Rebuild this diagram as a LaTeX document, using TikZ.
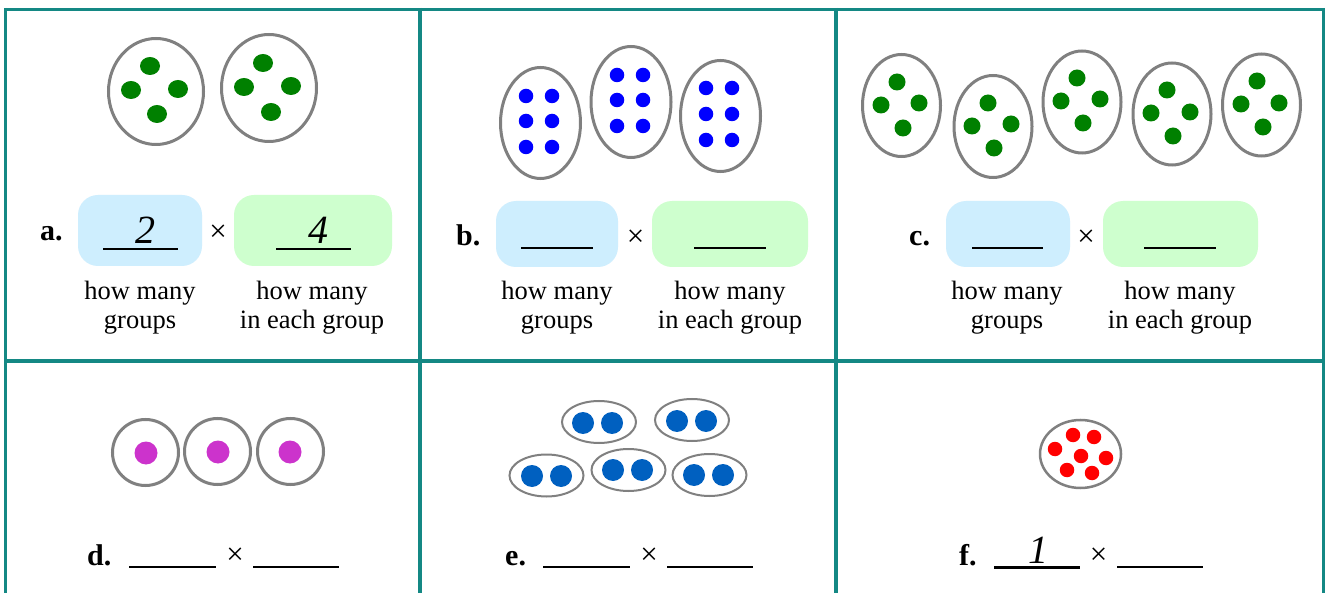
\documentclass[tikz,border=0pt]{standalone}
\usepackage{fontspec}
\setmainfont{Liberation Serif}
\usetikzlibrary{shapes.geometric}
\definecolor{gridc}{RGB}{20,136,132}
\definecolor{ringc}{RGB}{128,128,128}
\definecolor{boxblue}{RGB}{206,238,254}
\definecolor{boxgreen}{RGB}{206,255,206}
\definecolor{dgreen}{RGB}{0,128,0}
\definecolor{dblue}{RGB}{0,0,255}
\definecolor{dmag}{RGB}{204,51,204}
\definecolor{dblue2}{RGB}{0,96,192}
\definecolor{dred}{RGB}{255,0,0}
\tikzset{
  gridline/.style={draw=gridc,line width=3.5pt},
  ring/.style={draw=ringc,line width=3pt,ellipse,inner sep=0pt,fill=white},
  thinring/.style={draw=ringc,line width=2pt,ellipse,inner sep=0pt,fill=white},
  dot/.style={circle,inner sep=0pt,draw=none,minimum size=#1},
  edot/.style={ellipse,inner sep=0pt,draw=none,fill=dgreen,minimum width=20pt,minimum height=18pt},
  lab/.style={font=\fontsize{30}{36}\selectfont\bfseries,inner sep=0pt,anchor=base west},
  txt/.style={font=\fontsize{26.5}{31}\selectfont,inner sep=0pt,anchor=base},
  num/.style={font=\fontsize{40}{46}\selectfont\itshape,inner sep=0pt,anchor=base},
  times/.style={font=\fontsize{31}{36}\selectfont,inner sep=0pt,anchor=center},
  bbox/.style={fill=boxblue,rounded corners=20pt},
  gbox/.style={fill=boxgreen,rounded corners=20pt},
  blank/.style={line width=2pt,black},
}
\begin{document}
\begin{tikzpicture}[x=1pt,y=-1pt]
\useasboundingbox (0,0) rectangle (1325,593);
\fill[white] (0,0) rectangle (1325,593);
% grid
\draw[gridline] (5.5,8) -- (5.5,593);
\draw[gridline] (420,8) -- (420,593);
\draw[gridline] (836,8) -- (836,593);
\draw[gridline] (1323.5,8) -- (1323.5,593);
\draw[gridline] (4,9.5) -- (1325,9.5);
\draw[gridline] (4,361) -- (1325,361);

% ---------- panel a ----------
\node[ring,minimum width=95pt,minimum height=106pt] (a-g1) at (156,91.5) {};
\node[ring,minimum width=95pt,minimum height=107pt] (a-g2) at (269,88) {};
\node[edot] (a-g1-1) at (150,66) {};
\node[edot] (a-g1-2) at (131,90) {};
\node[edot] (a-g1-3) at (178,89) {};
\node[edot] (a-g1-4) at (157,114) {};
\node[edot] (a-g2-1) at (263,63) {};
\node[edot] (a-g2-2) at (244,87) {};
\node[edot] (a-g2-3) at (291,86) {};
\node[edot] (a-g2-4) at (271,112) {};
\node[lab] (a-lab) at (40,241) {a.};
\fill[bbox] (78,195) rectangle (202,266);
\fill[gbox] (234,195) rectangle (392,266);
\draw[blank] (103,249) -- (178,249);
\draw[blank] (276,249) -- (351,249);
\node[num] (a-n1) at (145,244) {2};
\node[num] (a-n2) at (318,244) {4};
\node[times] (a-x) at (218,233) {×};
\node[txt] (a-t1) at (140,300) {how many};
\node[txt] (a-t2) at (140,329) {groups};
\node[txt] (a-t3) at (312,300) {how many};
\node[txt] (a-t4) at (312,329) {in each group};

% ---------- panel b ----------
\node[ring,minimum width=80pt,minimum height=111pt] (b-g1) at (540.5,123) {};
\node[ring,minimum width=80pt,minimum height=111pt] (b-g2) at (631,102) {};
\node[ring,minimum width=80pt,minimum height=111pt] (b-g3) at (720.5,116) {};
\foreach \c/\r [count=\i] in {526/96,552/96,526/121,552/121,526/147,552/147}
  \node[dot=14.5pt,fill=dblue] (b-g1-\i) at (\c,\r) {};
\foreach \c/\r [count=\i] in {617/75,643/75,617/100,643/100,617/126,643/126}
  \node[dot=14.5pt,fill=dblue] (b-g2-\i) at (\c,\r) {};
\foreach \c/\r [count=\i] in {706/88,732/88,706/114,732/114,706/140,732/140}
  \node[dot=14.5pt,fill=dblue] (b-g3-\i) at (\c,\r) {};
\node[lab] (b-lab) at (456,246) {b.};
\fill[bbox] (496,201) rectangle (618,267);
\fill[gbox] (652,201) rectangle (808,267);
\draw[blank] (521,248) -- (593,248);
\draw[blank] (694,248) -- (766,248);
\node[times] (b-x) at (635.5,238) {×};
\node[txt] (b-t1) at (557,300) {how many};
\node[txt] (b-t2) at (557,329) {groups};
\node[txt] (b-t3) at (730,300) {how many};
\node[txt] (b-t4) at (730,329) {in each group};

% ---------- panel c ----------
\node[ring,minimum width=78pt,minimum height=102pt] (c-g1) at (901.5,105.5) {};
\node[ring,minimum width=78pt,minimum height=102pt] (c-g2) at (993,126.5) {};
\node[ring,minimum width=78pt,minimum height=102pt] (c-g3) at (1082,102) {};
\node[ring,minimum width=78pt,minimum height=102pt] (c-g4) at (1172,114) {};
\node[ring,minimum width=78pt,minimum height=102pt] (c-g5) at (1261.5,105) {};
\foreach \c/\r [count=\i] in {897/82,881/105,919/103,903/128}
  \node[dot=17pt,fill=dgreen] (c-g1-\i) at (\c,\r) {};
\foreach \c/\r [count=\i] in {988/103,972/126,1011/124,994/148}
  \node[dot=17pt,fill=dgreen] (c-g2-\i) at (\c,\r) {};
\foreach \c/\r [count=\i] in {1077/78,1061/101,1100/99,1083/123}
  \node[dot=17pt,fill=dgreen] (c-g3-\i) at (\c,\r) {};
\foreach \c/\r [count=\i] in {1167/90,1151/113,1190/112,1173/136}
  \node[dot=17pt,fill=dgreen] (c-g4-\i) at (\c,\r) {};
\foreach \c/\r [count=\i] in {1257/81,1241/104,1279/103,1263/127}
  \node[dot=17pt,fill=dgreen] (c-g5-\i) at (\c,\r) {};
\node[lab] (c-lab) at (909,246) {c.};
\fill[bbox] (946,201) rectangle (1070,267);
\fill[gbox] (1103,201) rectangle (1258,267);
\draw[blank] (972,248) -- (1043,248);
\draw[blank] (1144,248) -- (1216,248);
\node[times] (c-x) at (1086,238) {×};
\node[txt] (c-t1) at (1007,300) {how many};
\node[txt] (c-t2) at (1007,329) {groups};
\node[txt] (c-t3) at (1180,300) {how many};
\node[txt] (c-t4) at (1180,329) {in each group};

% ---------- panel d ----------
\node[ring,circle,minimum size=66pt] (d-g1) at (145.5,452.5) {};
\node[ring,circle,minimum size=66pt] (d-g2) at (217.5,451.5) {};
\node[ring,circle,minimum size=66pt] (d-g3) at (290.5,451.5) {};
\node[dot=23pt,fill=dmag] (d-g1-1) at (146,453) {};
\node[dot=23pt,fill=dmag] (d-g2-1) at (218,452) {};
\node[dot=23pt,fill=dmag] (d-g3-1) at (290,452) {};
\node[lab] (d-lab) at (87,565) {d.};
\draw[blank] (129,567) -- (216,567);
\draw[blank] (253,567) -- (339,567);
\node[times] (d-x) at (235,556) {×};

% ---------- panel e ----------
\node[thinring,minimum width=74pt,minimum height=42pt] (e-g1) at (599,422) {};
\node[thinring,minimum width=74pt,minimum height=42pt] (e-g2) at (692,420) {};
\node[thinring,minimum width=74pt,minimum height=42pt] (e-g3) at (546.5,475.5) {};
\node[thinring,minimum width=74pt,minimum height=42pt] (e-g4) at (628.5,470) {};
\node[thinring,minimum width=74pt,minimum height=42pt] (e-g5) at (709.5,475) {};
\node[dot=22pt,fill=dblue2] (e-g1-1) at (583,423) {};
\node[dot=22pt,fill=dblue2] (e-g1-2) at (612,423) {};
\node[dot=22pt,fill=dblue2] (e-g2-1) at (677,421) {};
\node[dot=22pt,fill=dblue2] (e-g2-2) at (706,421) {};
\node[dot=22pt,fill=dblue2] (e-g3-1) at (532,476) {};
\node[dot=22pt,fill=dblue2] (e-g3-2) at (561,476) {};
\node[dot=22pt,fill=dblue2] (e-g4-1) at (613,470) {};
\node[dot=22pt,fill=dblue2] (e-g4-2) at (642,470) {};
\node[dot=22pt,fill=dblue2] (e-g5-1) at (694,475) {};
\node[dot=22pt,fill=dblue2] (e-g5-2) at (723,475) {};
\node[lab] (e-lab) at (505,565) {e.};
\draw[blank] (543,567) -- (630,567);
\draw[blank] (667,567) -- (753,567);
\node[times] (e-x) at (649,556) {×};

% ---------- panel f ----------
\node[ring,line width=2.5pt,minimum width=81pt,minimum height=68pt] (f-g1) at (1080.5,454) {};
\foreach \c/\r [count=\i] in {1073/435,1094/437,1055/449,1081/456,1106/458,1067/470,1092/473}
  \node[dot=14.5pt,fill=dred] (f-g1-\i) at (\c,\r) {};
\node[lab] (f-lab) at (959,565) {f.};
\draw[blank,line width=3pt] (994,567) -- (1080,567);
\draw[blank] (1117,567) -- (1203,567);
\node[num] (f-n1) at (1038.5,563) {1};
\node[times] (f-x) at (1098.5,556) {×};
\end{tikzpicture}
\end{document}
